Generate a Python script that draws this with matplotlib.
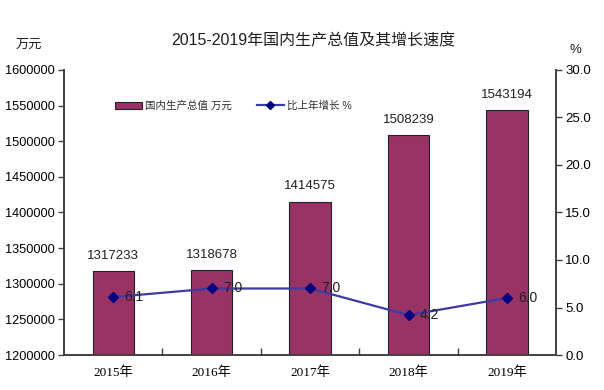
import matplotlib
matplotlib.use("Agg")
import matplotlib.pyplot as plt
from matplotlib.lines import Line2D
from matplotlib.patches import Patch

plt.rcParams['font.family'] = ['Liberation Sans', 'Noto Sans CJK SC']

years = ["2015年", "2016年", "2017年", "2018年", "2019年"]
gdp = [1317233, 1318678, 1414575, 1508239, 1543194]
growth = [6.1, 7.0, 7.0, 4.2, 6.0]
left_ticks = [1200000, 1250000, 1300000, 1350000, 1400000, 1450000, 1500000, 1550000, 1600000]
right_ticks = [0.0, 5.0, 10.0, 15.0, 20.0, 25.0, 30.0]

bar_color = "#993366"
line_color = "#3b3ba6"
marker_color = "#000080"
axis_color = "#404040"

fig = plt.figure(figsize=(6.04, 3.90), dpi=100)
ax = fig.add_axes([0.106, 0.0897, 0.815, 0.731])
x = list(range(len(years)))
ax.bar(x, gdp, width=0.42, color=bar_color, edgecolor="#202020", linewidth=0.8, zorder=2)
ax.set_xlim(-0.5, len(years) - 0.5)
ax.set_ylim(1200000, 1600000)
ax.set_yticks(left_ticks)
ax.set_yticklabels([str(v) for v in left_ticks], fontsize=9.2)
ax.set_xticks(x)
ax.set_xticklabels(years, fontsize=9.5, family=['Liberation Serif', 'Noto Sans CJK SC'])
ax.tick_params(axis='x', length=0, pad=8)
# category boundary ticks
ax.set_xticks([i + 0.5 for i in range(len(years) - 1)], minor=True)
ax.tick_params(axis='x', which='minor', direction='in', length=5, color=axis_color, width=1)
ax.tick_params(axis='y', direction='out', length=4, pad=2.5, color=axis_color, width=1)
ax.spines['top'].set_visible(False)
for s in ['left', 'right', 'bottom']:
    ax.spines[s].set_color(axis_color)
    ax.spines[s].set_linewidth(1.2)

for xi, v in zip(x, gdp):
    ax.annotate(str(v), (xi, v), xytext=(0, 7), textcoords='offset points',
                ha='center', va='bottom', fontsize=9.5, color='#202020')

ax2 = ax.twinx()
ax2.set_ylim(0, 30)
ax2.set_yticks(right_ticks)
ax2.set_yticklabels([f"{v:.1f}" for v in right_ticks], fontsize=9.5)
ax2.tick_params(axis='y', direction='out', length=4, pad=2.5, color=axis_color, width=1)
ax2.spines['top'].set_visible(False)
for s in ['left', 'right', 'bottom']:
    ax2.spines[s].set_color(axis_color)
    ax2.spines[s].set_linewidth(1.2)
ax2.plot(x, growth, color=line_color, linewidth=1.6, marker='D', markersize=5,
         markerfacecolor=marker_color, markeredgecolor=marker_color, zorder=3)
for xi, v in zip(x, growth):
    ax2.annotate(f"{v:.1f}", (xi, v), xytext=(8, 0), textcoords='offset points',
                 ha='left', va='center', fontsize=10, color='#202020')

fig.text(0.518, 0.895, "2015-2019年国内生产总值及其增长速度", ha='center', va='center',
         fontsize=11.5, color='#202020')
fig.text(0.048, 0.885, "万元", ha='center', va='center', fontsize=9.5, color='#202020')
fig.text(0.953, 0.872, "%", ha='center', va='center', fontsize=9.5, color='#202020')

handles = [Patch(facecolor=bar_color, edgecolor='#202020', linewidth=0.8),
           Line2D([0], [0], color=line_color, linewidth=1.6, marker='D', markersize=4,
                  markerfacecolor=marker_color, markeredgecolor=marker_color)]
leg = ax.legend(handles, ["国内生产总值 万元", "比上年增长 %"], loc='upper left',
                bbox_to_anchor=(0.085, 0.925), ncol=2, frameon=False, fontsize=7.6,
                handlelength=2.5, handleheight=0.7, columnspacing=2.4, handletextpad=0.3)
for t in leg.get_texts():
    t.set_color('#303030')

fig.savefig("out.png", dpi=100)
